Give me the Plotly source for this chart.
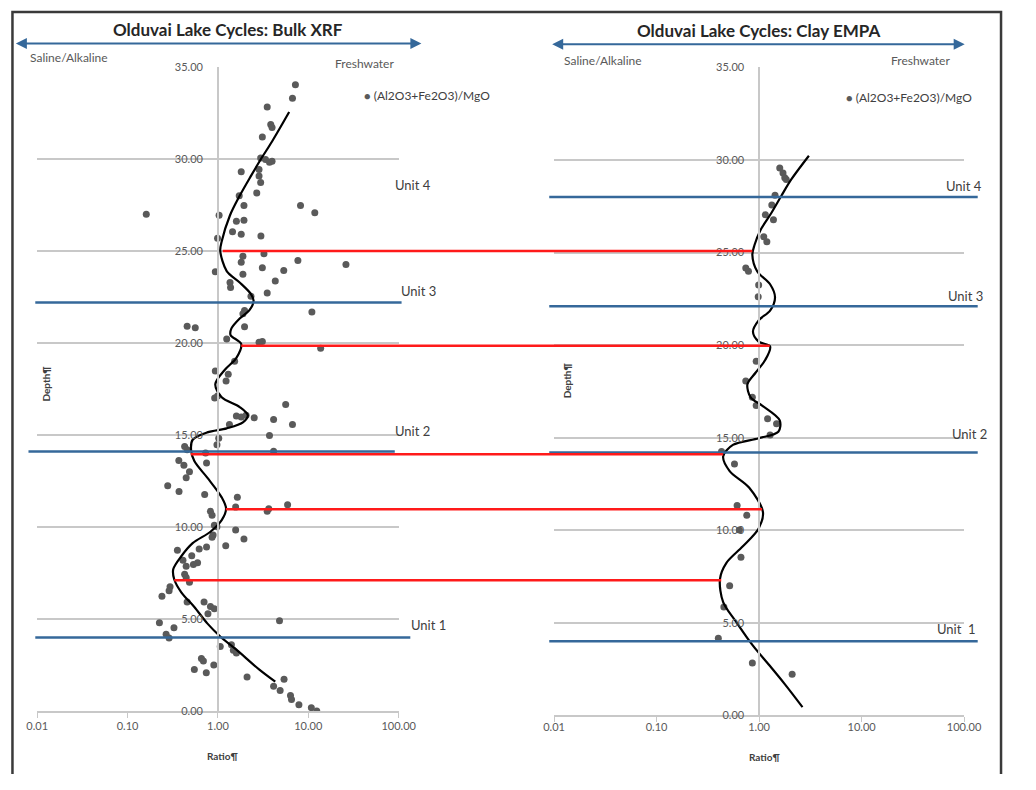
import math
import plotly.graph_objects as go

# ---------------- data ----------------
# Left panel: Bulk XRF  (ratio = (Al2O3+Fe2O3)/MgO, depth)
xrf_ratio = [7.2, 6.68, 3.51, 3.84, 3.97, 3.10, 2.97, 3.36, 3.72, 3.97,
             1.81, 2.85, 2.85, 2.97, 2.69, 1.72, 1.94, 8.2, 11.8, 0.161,
             1.03, 1.60, 1.94, 1.45, 1.81, 2.99, 0.99, 3.23, 1.89, 1.81,
             7.67, 26.1, 0.935, 3.10, 1.89, 5.35, 4.31, 1.36, 1.38, 3.51,
             2.32, 10.96, 1.97, 1.89, 0.456, 0.561, 1.97, 1.25, 3.10, 2.85,
             13.7, 1.53, 0.935, 1.30, 1.23, 0.92, 0.99, 5.62, 1.60, 1.81,
             2.05, 2.52, 4.13, 6.68, 1.34, 3.72, 1.02, 0.975, 0.428, 0.456,
             4.13, 0.73, 0.748, 0.369, 0.42, 0.484, 0.445, 0.278, 0.371, 0.713,
             1.64, 1.57, 3.51, 3.65, 5.9, 0.826, 0.861, 0.912, 0.975, 0.884,
             0.861, 1.57, 1.94, 1.22, 0.748, 0.62, 0.356, 0.513, 0.41, 0.595,
             0.535, 0.445, 0.428, 0.445, 0.484, 0.295, 0.288, 0.24, 0.456, 0.702,
             0.826, 0.912, 0.775, 0.225, 4.8, 0.326, 0.267, 0.288, 1.06, 1.41,
             1.48, 1.60, 0.656, 0.69, 0.9, 0.548, 0.743, 2.10, 5.39, 4.13,
             4.88, 6.35, 6.52, 7.87, 10.8, 12.4]
xrf_depth = [34.03, 33.3, 32.82, 31.87, 31.71, 31.2, 30.05, 29.97, 29.82, 29.88,
             29.31, 29.43, 29.08, 28.72, 28.15, 28.0, 27.47, 27.47, 27.08, 26.99,
             26.94, 26.62, 26.67, 26.04, 25.91, 25.82, 25.69, 24.85, 24.71, 24.39,
             24.48, 24.27, 23.87, 24.09, 23.73, 23.94, 23.37, 23.29, 23.02, 22.72,
             22.54, 21.68, 21.77, 21.59, 20.91, 20.83, 20.88, 20.22, 20.08, 20.04,
             19.72, 19.01, 18.48, 18.3, 17.94, 17.01, 17.12, 16.65, 16.03, 15.98,
             16.07, 15.93, 15.84, 15.57, 15.57, 14.97, 14.82, 14.47, 14.38, 14.2,
             14.11, 14.02, 13.48, 13.61, 13.36, 13.0, 12.68, 12.24, 11.93, 11.76,
             11.61, 11.08, 10.85, 10.99, 11.21, 10.85, 10.64, 10.1, 10.01, 9.57,
             9.44, 9.83, 9.35, 8.98, 8.91, 8.80, 8.73, 8.44, 8.19, 8.05,
             7.96, 7.86, 7.43, 7.25, 6.99, 6.75, 6.54, 6.24, 5.92, 5.92,
             5.68, 5.56, 5.29, 4.79, 4.9, 4.53, 4.17, 3.96, 3.51, 3.6,
             3.3, 3.15, 2.85, 2.71, 2.5, 2.26, 2.08, 1.85, 1.73, 1.34,
             1.11, 0.84, 0.63, 0.34, 0.18, 0.0]

xrf_fit_ratio = [6.14, 3.97, 2.97, 2.32, 1.74, 1.36, 1.10, 1.06, 1.25, 1.74,
                 2.32, 2.48, 2.22, 1.74, 1.41, 1.38, 1.81, 1.60, 1.20, 0.935,
                 1.10, 1.74, 2.14, 1.89, 1.25, 0.762, 0.525, 0.504, 0.548, 0.762,
                 1.10, 1.23, 1.10, 0.826, 0.525, 0.393, 0.32, 0.328, 0.393, 0.548,
                 0.762, 1.06, 1.60, 2.85, 4.31]
xrf_fit_depth = [32.55, 30.95, 29.97, 29.08, 28.0, 26.94, 25.51, 25.01, 23.91, 23.29,
                 22.66, 22.3, 21.77, 21.33, 20.79, 20.43, 19.94, 19.19, 18.56, 17.76,
                 17.05, 16.52, 16.07, 15.68, 15.36, 15.14, 14.74, 14.2, 13.58, 12.68,
                 11.61, 10.99, 10.37, 9.74, 9.12, 8.41, 7.70, 7.16, 6.45, 5.65,
                 4.76, 4.05, 3.33, 2.26, 1.59]

# Right panel: Clay EMPA
empa_ratio = [1.59, 1.71, 1.78, 1.84, 1.43, 1.33, 1.15, 1.38, 1.11, 1.19,
              0.741, 0.787, 0.99, 0.98, 0.937, 0.741, 0.859, 0.937, 1.21, 1.48,
              1.28, 0.43, 0.575, 0.61, 0.758, 0.642, 0.665, 0.516, 0.453, 0.40,
              0.859, 2.1]
empa_depth = [29.57, 29.3, 29.04, 28.95, 28.1, 27.57, 27.04, 26.78, 25.85, 25.59,
              24.17, 23.99, 23.25, 22.61, 19.13, 18.07, 17.18, 16.74, 16.03, 15.76,
              15.15, 14.26, 13.58, 11.34, 10.81, 10.01, 8.54, 7.0, 5.85, 4.17,
              2.83, 2.22]

empa_fit_ratio = [3.06, 2.06, 1.65, 1.33, 1.03, 0.902, 0.859, 0.957, 1.28, 1.43,
                  1.28, 0.99, 0.871, 0.99, 1.28, 1.15, 0.923, 0.769, 0.827, 1.07,
                  1.59, 1.54, 0.99, 0.555, 0.446, 0.516, 0.798, 1.09, 0.99, 0.69,
                  0.48, 0.415, 0.446, 0.596, 0.859, 1.24, 1.78, 2.65]
empa_fit_depth = [30.23, 28.95, 28.07, 27.18, 26.21, 25.41, 24.88, 23.99, 23.29, 22.58,
                  21.87, 21.34, 20.72, 20.19, 19.93, 19.21, 18.51, 17.89, 17.18, 16.74,
                  15.94, 15.32, 14.97, 14.61, 13.99, 13.2, 12.31, 10.98, 10.1, 9.12,
                  8.24, 7.36, 6.12, 5.06, 3.81, 2.75, 1.69, 0.45]

# unit boundaries (depth) and unit label depths
xrf_unit_bounds = [22.2, 14.1, 4.0]
empa_unit_bounds = [28.0, 22.1, 14.2, 4.0]
xrf_unit_labels = ["Unit 4", "Unit 3", "Unit 2", "Unit 1"]
xrf_unit_label_depth = [28.6, 22.8, 15.2, 4.65]
empa_unit_labels = ["Unit 4", "Unit 3", "Unit 2", "Unit  1"]
empa_unit_label_depth = [28.6, 22.65, 15.2, 4.65]

# correlation lines (red): depth, ratio on XRF curve, ratio on EMPA curve
corr_depth = [25.0, 19.85, 13.95, 10.96, 7.11]
corr_xrf_ratio = [1.13, 1.81, 0.50, 1.22, 0.328]
corr_empa_ratio = [0.858, 1.27, 0.446, 1.07, 0.427]

tick_vals = [0.01, 0.1, 1, 10, 100]
tick_text = ["0.01", "0.10", "1.00", "10.00", "100.00"]
depth_ticks = [0, 5, 10, 15, 20, 25, 30, 35]

# ---------------- layout helpers ----------------
# the page body keeps an 8px margin, so the figure is sized to fit the
# 1036x790 window exactly and positions are given in window pixels.
PAGE_W, PAGE_H = 1036, 790
BODY_MARGIN = 8
W, H = PAGE_W - 2 * BODY_MARGIN, PAGE_H - 2 * BODY_MARGIN
FONT = "Lato"
GRAY = "#595959"
GRID = "#c8c8c8"
BLUE = "#35689a"
RED = "#ff1a1a"


def px(x):
    return (x - BODY_MARGIN) / W


def py(y):
    return 1 - (y - BODY_MARGIN) / H


L_XD = [px(35), px(407)]
L_YD = [py(724), py(69)]
R_XD = [px(567), px(989)]
R_YD = [py(728.5), py(69.5)]
XR = [-2, 2]


def paper_x(ratio, dom):
    return dom[0] + (math.log10(ratio) - XR[0]) / (XR[1] - XR[0]) * (dom[1] - dom[0])


fig = go.Figure()

marker = dict(size=7, color="#5a5a5a")
fig.add_trace(go.Scatter(x=xrf_ratio, y=xrf_depth, mode="markers", marker=marker,
                         xaxis="x", yaxis="y", showlegend=False))
fig.add_trace(go.Scatter(x=xrf_fit_ratio, y=xrf_fit_depth, mode="lines",
                         line=dict(color="black", width=2.2, shape="spline", smoothing=0.9),
                         xaxis="x", yaxis="y", showlegend=False))
fig.add_trace(go.Scatter(x=empa_ratio, y=empa_depth, mode="markers", marker=marker,
                         xaxis="x2", yaxis="y2", showlegend=False))
fig.add_trace(go.Scatter(x=empa_fit_ratio, y=empa_fit_depth, mode="lines",
                         line=dict(color="black", width=2.2, shape="spline", smoothing=0.9),
                         xaxis="x2", yaxis="y2", showlegend=False))

tickfont = dict(family=FONT, size=11, color=GRAY)


def xaxis(dom, anchor, standoff):
    return dict(domain=dom, anchor=anchor, type="log", range=XR,
                tickvals=tick_vals, ticktext=tick_text, tickfont=tickfont,
                showgrid=False, zeroline=False, showline=True, linecolor=GRID,
                linewidth=1.5, ticks="outside", ticklen=5, tickcolor=GRID,
                ticklabelstandoff=standoff, fixedrange=True)


def yaxis(dom, xdom):
    return dict(domain=dom, anchor="free", position=(xdom[0] + xdom[1]) / 2,
                range=[0, 35], tickvals=depth_ticks, tickformat=".2f",
                tickfont=tickfont, showgrid=True, gridcolor=GRID, gridwidth=1.5,
                zeroline=False, showline=True, linecolor=GRID, linewidth=1.5,
                ticks="", ticklabelstandoff=12, fixedrange=True)


fig.update_layout(
    width=W, height=H, autosize=False,
    margin=dict(l=0, r=0, t=0, b=0, pad=0),
    paper_bgcolor="white", plot_bgcolor="rgba(0,0,0,0)",
    showlegend=False,
    xaxis=xaxis(L_XD, "y", -1),
    yaxis=yaxis(L_YD, L_XD),
    xaxis2=xaxis(R_XD, "y2", -4),
    yaxis2=yaxis(R_YD, R_XD),
)

shapes = []
# frame
shapes.append(dict(type="rect", xref="paper", yref="paper", x0=px(9.5), x1=px(1027),
                   y0=py(800), y1=py(13), line=dict(color="#3a3a3a", width=2.5),
                   layer="below"))
# blue unit boundaries
left_extents = [(33, 410), (26, 403), (33, 419)]
for d, (a, b) in zip(xrf_unit_bounds, left_extents):
    shapes.append(dict(type="line", xref="paper", yref="y", x0=px(a), x1=px(b),
                       y0=d, y1=d, line=dict(color=BLUE, width=2.5)))
for d in empa_unit_bounds:
    shapes.append(dict(type="line", xref="paper", yref="y2", x0=px(562), x1=px(1003),
                       y0=d, y1=d, line=dict(color=BLUE, width=2.5)))
# red correlation lines
for d, rl, rr in zip(corr_depth, corr_xrf_ratio, corr_empa_ratio):
    shapes.append(dict(type="line", xref="paper", yref="y",
                       x0=paper_x(rl, L_XD), x1=paper_x(rr, R_XD),
                       y0=d, y1=d, line=dict(color=RED, width=2.5)))
fig.update_layout(shapes=shapes)

ann = []


def text_ann(text, x, y, font, yref="paper", **kw):
    d = dict(text=text, x=x, y=y, xref="paper", yref=yref, showarrow=False,
             xanchor="center", yanchor="middle", font=font)
    d.update(kw)
    ann.append(d)


title_font = dict(family=FONT, size=17, color="#262626")
text_ann("<b>Olduvai Lake Cycles: Bulk XRF</b>", px(231), py(31), title_font)
text_ann("<b>Olduvai Lake Cycles: Clay EMPA</b>", px(777), py(32), title_font)

# double-headed arrows
for x0, x1, yy in [(13, 420, 45), (565, 979, 46)]:
    ann.append(dict(text="", x=px(x0), y=py(yy), xref="paper", yref="paper",
                    ax=x1 - x0, ay=0, axref="pixel", ayref="pixel",
                    showarrow=True, arrowhead=2, arrowside="end+start",
                    arrowsize=1.1, arrowwidth=2, arrowcolor=BLUE, standoff=0,
                    startstandoff=0))

small = dict(family=FONT, size=12, color=GRAY)
text_ann("Saline/Alkaline", px(68), py(59), small)
text_ann("Freshwater", px(372), py(65), small)
text_ann("Saline/Alkaline", px(617), py(62), small)
text_ann("Freshwater", px(944), py(62), small)

# legends
leg = ('<span style="color:#5a5a5a;font-size:11px">\u25cf</span> (Al2O3+Fe2O3)/MgO')
legfont = dict(family=FONT, size=12, color="#404040")
text_ann(leg, px(369), py(98), legfont, xanchor="left")
text_ann(leg, px(865), py(100), legfont, xanchor="left")

# unit labels
unit_font = dict(family=FONT, size=13, color="#404040")
for t, d, xx in zip(xrf_unit_labels, xrf_unit_label_depth, [422, 427, 421, 438]):
    text_ann(t, px(xx), d, unit_font, yref="y")
for t, d, xx in zip(empa_unit_labels, empa_unit_label_depth, [989, 990, 995, 981]):
    text_ann(t, px(xx), d, unit_font, yref="y2")

# axis titles
axt = dict(family=FONT, size=10, color="#404040")
text_ann("<b>Depth¶</b>", px(44), py(391), axt, textangle=-90)
text_ann("<b>Depth¶</b>", px(580), py(388), axt, textangle=-90)
text_ann("<b>Ratio¶</b>", px(226), py(770), axt)
text_ann("<b>Ratio¶</b>", px(784), py(771), axt)
fig.update_layout(annotations=ann)

fig.write_html("out.html")
